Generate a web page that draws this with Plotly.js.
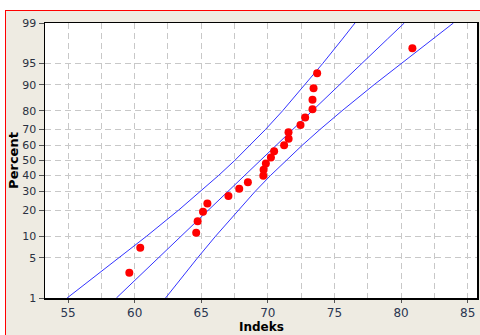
<!DOCTYPE html>
<html>
<head>
<meta charset="utf-8">
<script src="https://cdn.plot.ly/plotly-3.0.1.min.js"></script>
<style>
  html, body { margin: 0; padding: 0; background: #ffffff; width: 480px; height: 335px; overflow: hidden; }
  #frame { position: absolute; left: 5px; top: 10px; border-top: 1px solid #ff0000; border-left: 1px solid #ff0000; width: 474px; height: 324px; }
  #chart { width: 474px; height: 324px; }
</style>
</head>
<body>
<div id="frame"><div id="chart"></div></div>
<script>
// Observed data (Indeks values and plotting-position percents)
const indeks = [59.60, 60.42, 64.62, 64.73, 65.13, 65.46, 67.04, 67.85, 68.50, 69.66, 69.68, 69.85,
                70.23, 70.47, 71.22, 71.56, 71.55, 72.45, 72.80, 73.35, 73.35, 73.43, 73.70, 80.85];
const percent = [2.87, 6.97, 11.07, 15.16, 19.26, 23.36, 27.46, 31.56, 35.66, 39.75, 43.85, 47.95,
                 52.05, 56.15, 60.25, 64.34, 68.44, 72.54, 76.64, 80.74, 84.84, 88.93, 93.03, 97.13];

// Fitted line and confidence bands, read at these percent levels
const linePercent = [1, 2, 5, 10, 20, 30, 40, 50, 60, 70, 80, 90, 95, 98, 99];
const fitX   = [58.63, 59.89, 61.79, 63.48, 65.52, 66.99, 68.25, 69.43, 70.61, 71.87, 73.34, 75.38, 77.07, 78.97, 80.24];
const lowerX = [54.93, 56.50, 58.84, 60.89, 63.29, 64.95, 66.30, 67.51, 68.66, 69.82, 71.11, 72.79, 74.13, 75.59, 76.54];
const upperX = [62.32, 63.28, 64.73, 66.07, 67.76, 69.04, 70.20, 71.35, 72.56, 73.91, 75.57, 77.97, 80.02, 82.36, 83.93];

// Axis ticks
const yTickPercent = [1, 5, 10, 20, 30, 40, 50, 60, 70, 80, 90, 95, 99];
const yTickText = ["1", "5", "10", "20", "30", "40", "50", "60", "70", "80", "90", "95", "99"];
const xTickVals = [55, 60, 65, 70, 75, 80, 85];

// Normal probability scale transform (percent -> standard normal quantile)
function probit(pct) {
  const p = pct / 100;
  const a = [-3.969683028665376e+01, 2.209460984245205e+02, -2.759285104469687e+02, 1.383577518672690e+02, -3.066479806614716e+01, 2.506628277459239e+00];
  const b = [-5.447609879822406e+01, 1.615858368580409e+02, -1.556989798598866e+02, 6.680131188771972e+01, -1.328068155288572e+01];
  const c = [-7.784894002430293e-03, -3.223964580411365e-01, -2.400758277161838e+00, -2.549732539343734e+00, 4.374664141464968e+00, 2.938163982698783e+00];
  const d = [7.784695709041462e-03, 3.224671290700398e-01, 2.445134137142996e+00, 3.754408661907416e+00];
  const pl = 0.02425, ph = 1 - pl;
  let q, r;
  if (p < pl) {
    q = Math.sqrt(-2 * Math.log(p));
    return (((((c[0]*q+c[1])*q+c[2])*q+c[3])*q+c[4])*q+c[5]) / ((((d[0]*q+d[1])*q+d[2])*q+d[3])*q+1);
  } else if (p <= ph) {
    q = p - 0.5; r = q * q;
    return (((((a[0]*r+a[1])*r+a[2])*r+a[3])*r+a[4])*r+a[5])*q / (((((b[0]*r+b[1])*r+b[2])*r+b[3])*r+b[4])*r+1);
  } else {
    q = Math.sqrt(-2 * Math.log(1 - p));
    return -(((((c[0]*q+c[1])*q+c[2])*q+c[3])*q+c[4])*q+c[5]) / ((((d[0]*q+d[1])*q+d[2])*q+d[3])*q+1);
  }
}

const lineZ = linePercent.map(probit);
const blue = "#3333ff";

const traces = [
  { x: lowerX, y: lineZ, type: "scatter", mode: "lines", line: { color: blue, width: 1 }, hoverinfo: "skip" },
  { x: fitX, y: lineZ, type: "scatter", mode: "lines", line: { color: blue, width: 1 }, hoverinfo: "skip" },
  { x: upperX, y: lineZ, type: "scatter", mode: "lines", line: { color: blue, width: 1 }, hoverinfo: "skip" },
  { x: indeks, y: percent.map(probit), type: "scatter", mode: "markers",
    marker: { color: "#ff0000", size: 8, line: { width: 0 } } }
];

const yMax = probit(99);
const gridColor = "#c8c8c8";
const layout = {
  width: 474, height: 324,
  paper_bgcolor: "#eeebe2",
  plot_bgcolor: "#ffffff",
  showlegend: false,
  margin: { l: 39, r: 3, t: 12, b: 37, pad: 0 },
  font: { family: "DejaVu Sans, Verdana, sans-serif", color: "#222222" },
  xaxis: {
    range: [53.27, 85.7],
    tickvals: xTickVals,
    ticktext: xTickVals.map(String),
    ticks: "outside", ticklen: 3, tickcolor: "#555555", tickwidth: 1,
    tickfont: { size: 12, color: "#2a3550", family: "DejaVu Sans, Verdana, sans-serif" },
    showgrid: true, gridcolor: gridColor, griddash: "6px,4px", gridwidth: 1,
    minor: { dtick: 2.5, tick0: 52.5, showgrid: true, gridcolor: gridColor, griddash: "6px,4px", gridwidth: 1, ticks: "" },
    showline: true, linecolor: "#000000", linewidth: 1.5, mirror: true,
    zeroline: false
  },
  yaxis: {
    range: [-yMax, yMax],
    tickvals: yTickPercent.map(probit),
    ticktext: yTickText,
    ticks: "outside", ticklen: 5, tickcolor: "#555555", tickwidth: 1,
    tickfont: { size: 11, color: "#2a3040", family: "DejaVu Sans, Verdana, sans-serif" },
    showgrid: true, gridcolor: gridColor, griddash: "6px,4px", gridwidth: 1,
    showline: true, linecolor: "#000000", linewidth: 1.5, mirror: true,
    zeroline: false,
    title: { text: "<b>Percent</b>", font: { size: 13, color: "#000000", family: "DejaVu Sans, Verdana, sans-serif" } }
  },
  annotations: [{
    text: "<b>Indeks</b>", xref: "paper", yref: "paper", x: 0.5, y: -0.076,
    xanchor: "center", yanchor: "top", showarrow: false, borderpad: 0,
    font: { size: 12, color: "#000000", family: "DejaVu Sans, Verdana, sans-serif" }
  }]
};

Plotly.newPlot("chart", traces, layout, { displayModeBar: false, staticPlot: true });
</script>
</body>
</html>
